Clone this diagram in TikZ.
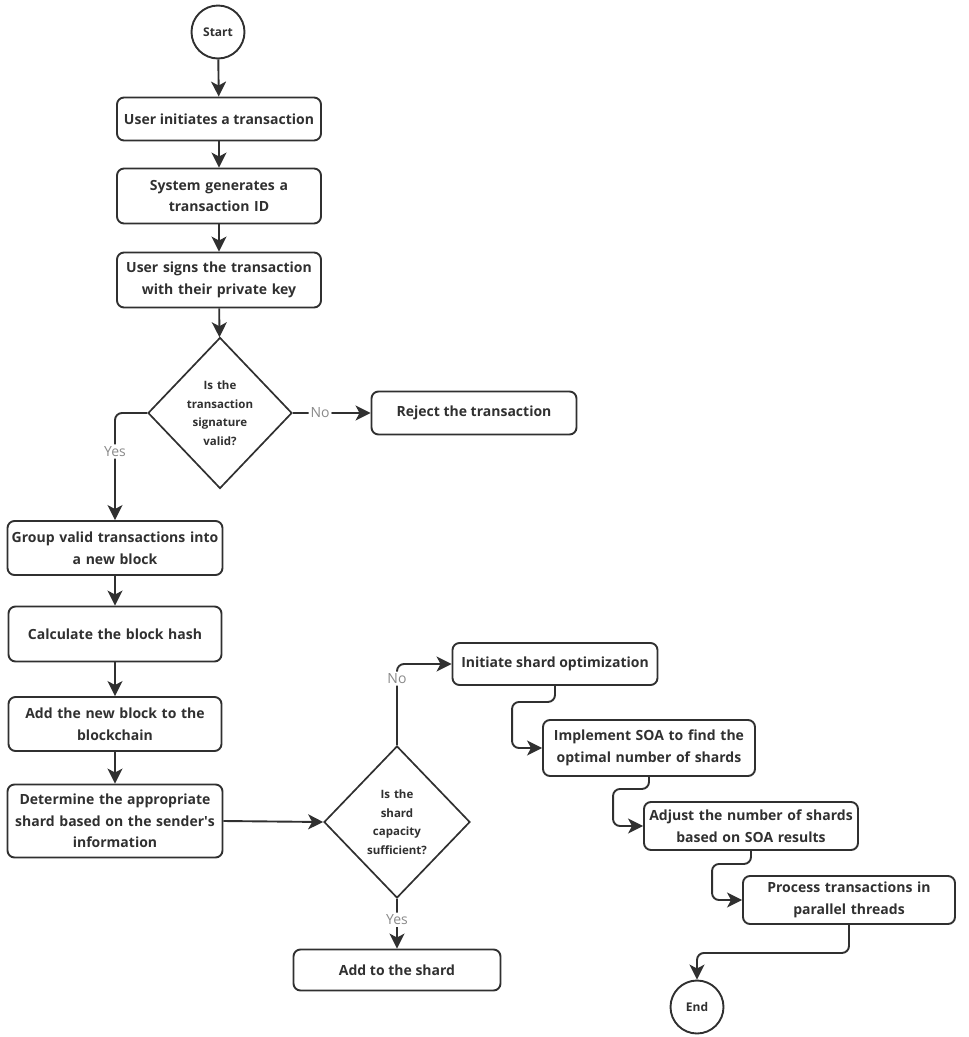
\documentclass[tikz,border=0pt]{standalone}
\usepackage{fontspec}
\setmainfont{Open Sans}
\usetikzlibrary{arrows.meta,shapes.geometric,calc}
\definecolor{ln}{HTML}{303030}
\definecolor{lbl}{HTML}{8A8A8A}
\tikzset{
  box/.style={draw=ln,line width=1.9pt,rounded corners=7pt,align=center,font=\fontsize{14}{21.5}\selectfont\bfseries,text=ln,inner sep=2pt},
  dec/.style={draw=ln,line width=1.7pt,shape=diamond,aspect=1,minimum width=144pt,minimum height=151pt,inner sep=0pt,align=center,text width=70pt,font=\fontsize{11.5}{18.5}\selectfont\bfseries,text=ln},
  term/.style={draw=ln,line width=1.9pt,circle,minimum size=53pt,inner sep=0pt,font=\fontsize{12}{14}\selectfont\bfseries,text=ln},
  arr/.style={draw=ln,line width=1.9pt,-{Stealth[length=15pt,width=15pt,inset=4pt]},rounded corners=7pt},
  yn/.style={fill=white,text=lbl,font=\fontsize{14}{16}\selectfont,inner sep=2pt}
}
\begin{document}
\begin{tikzpicture}[x=1pt,y=-1pt]
\useasboundingbox (0,0) rectangle (969,1037);
\node[term] (start) at (218,32) {Start};
\node[box,minimum width=204pt,minimum height=43pt] (b1) at (219,119) {User initiates a transaction};
\node[box,minimum width=204pt,minimum height=55pt,text width=198pt] (b2) at (219,196) {System generates a\\transaction ID};
\node[box,minimum width=204pt,minimum height=55pt,text width=198pt] (b3) at (219,280) {User signs the transaction\\with their private key};
\node[dec] (d1) at (220,413) {Is the\\transaction\\signature\\valid?};
\node[box,minimum width=205pt,minimum height=43pt] (rej) at (474,413) {Reject the transaction};
\node[box,minimum width=213pt,minimum height=54pt,text width=211pt] (grp) at (115,548) {Group valid transactions into\\a new block};
\node[box,minimum width=213pt,minimum height=55pt,text width=205pt] (calc) at (115,634) {Calculate the block hash};
\node[box,minimum width=213pt,minimum height=54pt,text width=205pt] (add) at (115,724) {Add the new block to the\\blockchain};
\node[box,minimum width=213pt,minimum height=73pt,text width=211pt] (det) at (115,821) {Determine the appropriate\\shard based on the sender\textquotesingle s\\information};
\node[dec,minimum width=146pt,minimum height=152pt] (d2) at (397,822) {Is the\\shard\\capacity\\sufficient?};
\node[box,minimum width=207pt,minimum height=41pt] (shard) at (397,970) {Add to the shard};
\node[box,minimum width=205pt,minimum height=42pt] (init) at (555,664) {Initiate shard optimization};
\node[box,minimum width=212pt,minimum height=56pt,text width=208pt] (impl) at (649,748) {Implement SOA to find the\\optimal number of shards};
\node[box,minimum width=212pt,minimum height=48pt,text width=210pt] (adj) at (751,826) {Adjust the number of shards\\based on SOA results};
\node[box,minimum width=212pt,minimum height=48pt,text width=208pt] (proc) at (849,900) {Process transactions in\\parallel threads};
\node[term] (end) at (697,1007) {End};

\draw[arr] (start) -- (b1);
\draw[arr] (b1) -- (b2);
\draw[arr] (b2) -- (b3);
\draw[arr] (b3) -- (d1);
\draw[arr] (d1.east) -- node[yn,pos=0.35]{No} (rej.west);
\draw[arr] (d1.west) -| node[yn,pos=0.68]{Yes} (grp.north);
\draw[arr] (grp) -- (calc);
\draw[arr] (calc) -- (add);
\draw[arr] (add) -- (det);
\draw[arr] (det.east) -- (d2.west);
\draw[arr] (d2.north) |- node[yn,pos=0.41]{No} (init.west);
\draw[arr] (d2.south) -- node[yn,pos=0.42]{Yes} (shard.north);
\draw[arr] (init.south) -- ++(0,16) -| ([xshift=-30pt]impl.west) -- (impl.west);
\draw[arr] (impl.south) -- ++(0,12) -| ([xshift=-30pt]adj.west) -- (adj.west);
\draw[arr] (adj.south) -- ++(0,13) -| ([xshift=-30pt]proc.west) -- (proc.west);
\draw[arr] (proc.south) -- ++(0,28) -| (end.north);
\end{tikzpicture}
\end{document}
